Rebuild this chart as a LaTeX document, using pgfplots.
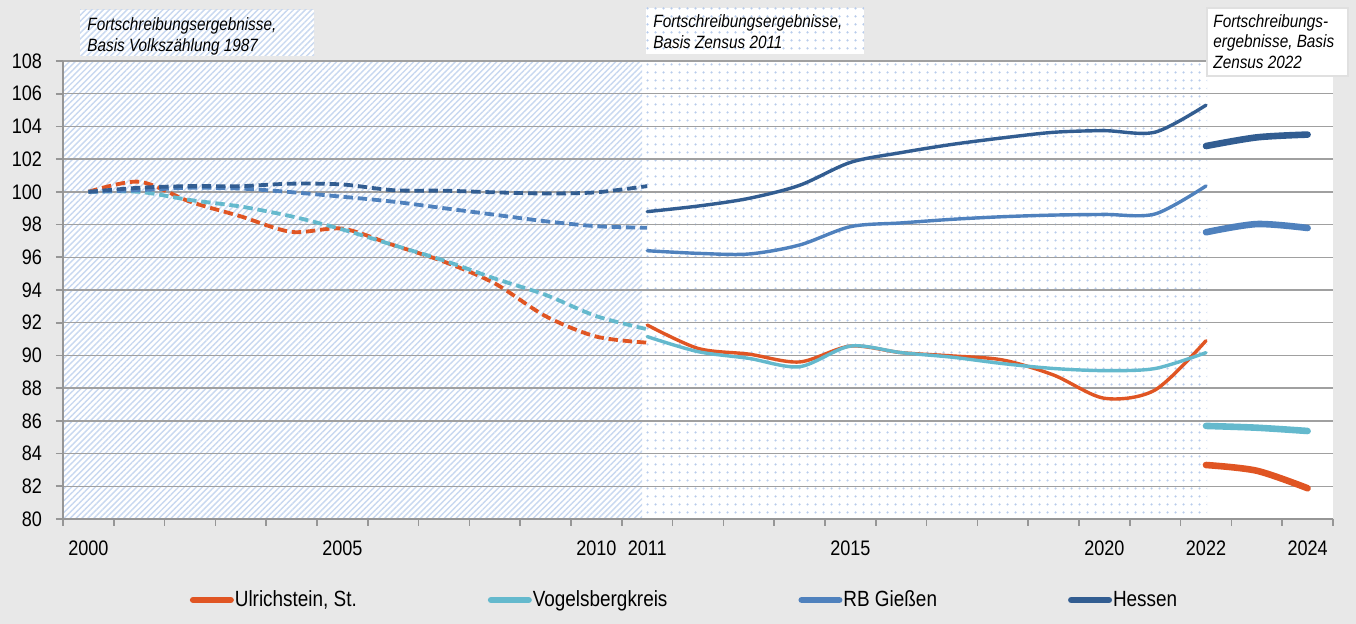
\documentclass[border=0pt]{standalone}
\usepackage{fontspec}
\setmainfont{Liberation Sans}[FakeStretch=0.86]
\usepackage{pgfplots}
\pgfplotsset{compat=1.18}
\usetikzlibrary{patterns.meta}
\definecolor{bggrey}{RGB}{232,232,232}
\definecolor{gridgrey}{RGB}{160,160,160}
\definecolor{axisgrey}{RGB}{150,150,150}
\definecolor{hatchc}{RGB}{200,216,240}
\definecolor{dotc}{RGB}{184,204,236}
\definecolor{cUl}{RGB}{224,85,35}
\definecolor{cVo}{RGB}{100,185,205}
\definecolor{cRB}{RGB}{79,129,189}
\definecolor{cHe}{RGB}{50,93,145}
\tikzset{hatch/.style={pattern={Lines[angle=45,distance=2.1pt,line width=0.7pt]},pattern color=hatchc},
  dotted area/.style={pattern={Dots[distance=4pt,radius=0.7pt]},pattern color=dotc},
  annot/.style={anchor=north west,align=left,inner sep=0pt,font=\fontsize{8.9pt}{10.6pt}\selectfont\itshape}}
\begin{document}
\begin{tikzpicture}
\begin{scope}[x=0.5pt,y=-0.5pt,yshift=312pt]
\fill[bggrey] (0,0) rectangle (1356,624);
\fill[white] (63,61) rectangle (1333,519);
\fill[hatch] (63,61) rectangle (642,519);
\fill[dotted area] (642,61) rectangle (1207,519);
\end{scope}
\begin{axis}[
  at={(31.5pt,52.5pt)}, anchor=south west,
  width=635pt, height=229pt, scale only axis,
  xmin=-0.5, xmax=24.5, ymin=80, ymax=108,
  axis x line*=bottom, axis y line*=left,
  axis line style={draw=axisgrey,line width=1pt,-},
  ytick={80,82,...,108},
  ymajorgrids, grid style={draw=gridgrey,line width=0.75pt},
  xtick={-0.5,0.5,...,24.5}, xticklabels={},
  extra x ticks={0,5,10,11,15,20,22,24},
  extra x tick labels={2000,2005,2010,2011,2015,2020,2022,2024},
  extra x tick style={major tick length=0pt},
  tick align=outside, major tick length=3.5pt,
  tick style={draw=axisgrey,line width=0.8pt},
  /pgf/number format/assume math mode=true,
  ticklabel style={font=\fontsize{10.5pt}{12pt}\selectfont},
  yticklabel style={xshift=-3.5pt},
  xticklabel style={yshift=-7.5pt},
  legend style={at={(axis description cs:0.0996,-0.1769)},anchor=west,
    legend columns=4, draw=none, fill=none, inner sep=0pt,
    font=\fontsize{11pt}{13pt}\selectfont,
    nodes={inner sep=0.5pt},
    /tikz/every even column/.append style={column sep=65pt}},
  legend cell align=left,
  legend image code/.code={\draw[line width=3.2pt,line cap=round,solid] (1.6pt,0pt) -- (20.4pt,0pt);},
  every axis plot/.append style={smooth,tension=0.5,no marks},
]
% Basis Volkszaehlung 1987 (dashed)
\addplot[forget plot,cUl,line width=1.9pt,dash pattern=on 4.7pt off 2.4pt] coordinates {(0,100)(1,100.62)(2,99.4)(3,98.5)(4,97.55)(5,97.75)(6,96.75)(7,95.73)(8,94.4)(9,92.4)(10,91.15)(11,90.78)};
\addplot[forget plot,cVo,line width=1.9pt,dash pattern=on 4.7pt off 2.4pt] coordinates {(0,100)(1,100.0)(2,99.5)(3,99.1)(4,98.5)(5,97.7)(6,96.75)(7,95.8)(8,94.7)(9,93.7)(10,92.4)(11,91.6)};
\addplot[forget plot,cRB,line width=1.9pt,dash pattern=on 4.7pt off 2.4pt] coordinates {(0,100)(1,100.1)(2,100.25)(3,100.2)(4,99.98)(5,99.7)(6,99.4)(7,99.0)(8,98.6)(9,98.2)(10,97.9)(11,97.8)};
\addplot[forget plot,cHe,line width=1.9pt,dash pattern=on 4.7pt off 2.4pt] coordinates {(0,100)(1,100.25)(2,100.35)(3,100.35)(4,100.5)(5,100.45)(6,100.1)(7,100.07)(8,99.97)(9,99.9)(10,99.97)(11,100.35)};
% Basis Zensus 2011 (solid)
\addplot[cUl,line width=1.7pt,line cap=round] coordinates {(11,91.86)(12,90.43)(13,90.08)(14,89.6)(15,90.57)(16,90.17)(17,89.97)(18,89.72)(19,88.8)(20,87.38)(21,87.89)(22,90.9)};
\addlegendentry{Ulrichstein, St.}
\addplot[cVo,line width=1.7pt,line cap=round] coordinates {(11,91.15)(12,90.23)(13,89.82)(14,89.31)(15,90.57)(16,90.17)(17,89.89)(18,89.5)(19,89.2)(20,89.07)(21,89.2)(22,90.17)};
\addlegendentry{Vogelsbergkreis}
\addplot[cRB,line width=1.7pt,line cap=round] coordinates {(11,96.4)(12,96.24)(13,96.2)(14,96.75)(15,97.87)(16,98.1)(17,98.32)(18,98.48)(19,98.58)(20,98.62)(21,98.65)(22,100.36)};
\addlegendentry{RB Gießen}
\addplot[cHe,line width=1.7pt,line cap=round] coordinates {(11,98.79)(12,99.13)(13,99.6)(14,100.4)(15,101.8)(16,102.4)(17,102.9)(18,103.3)(19,103.64)(20,103.74)(21,103.65)(22,105.3)};
\addlegendentry{Hessen}
% Basis Zensus 2022 (thick)
\addplot[forget plot,cUl,line width=3.3pt,line cap=round] coordinates {(22,83.3)(23,82.95)(24,81.88)};
\addplot[forget plot,cVo,line width=3.3pt,line cap=round] coordinates {(22,85.69)(23,85.58)(24,85.38)};
\addplot[forget plot,cRB,line width=3.3pt,line cap=round] coordinates {(22,97.53)(23,98.03)(24,97.79)};
\addplot[forget plot,cHe,line width=3.3pt,line cap=round] coordinates {(22,102.8)(23,103.33)(24,103.5)};
\end{axis}
\begin{scope}[x=0.5pt,y=-0.5pt,yshift=312pt]
\fill[white] (80,10) rectangle (314,56);
\fill[hatch] (80,10) rectangle (314,56);
\node[annot] at (87,17) {Fortschreibungsergebnisse,\\Basis Volkszählung 1987};
\fill[white] (646,8) rectangle (864,54);
\fill[dotted area] (646,8) rectangle (864,54);
\node[annot] at (653,14) {Fortschreibungsergebnisse,\\Basis Zensus 2011};
\filldraw[fill=white,draw=black!12,line width=0.6pt] (1207,8) rectangle (1348,76);
\node[annot,font=\fontsize{8.9pt}{10.25pt}\selectfont\itshape] at (1213,14) {Fortschreibungs-\\ergebnisse, Basis\\Zensus 2022};
\end{scope}
\end{tikzpicture}
\end{document}
